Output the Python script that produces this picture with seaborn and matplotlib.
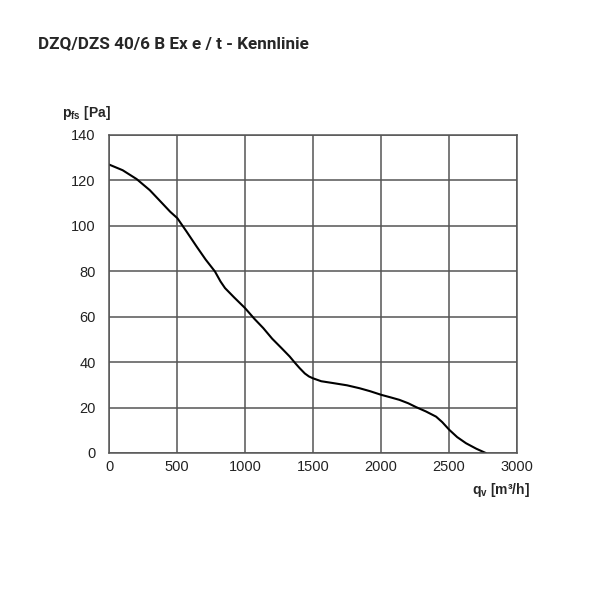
import pandas as pd
import matplotlib
matplotlib.use("Agg")
import matplotlib.pyplot as plt
import seaborn as sns

# Kennlinie
volume_flow = [0, 100, 203, 300, 387, 450, 502, 570, 644, 710, 779, 820, 853,
               920, 1000, 1070, 1134, 1200, 1268, 1328, 1370, 1401, 1440,
               1470, 1499, 1560, 1646, 1750, 1843, 1920, 2002, 2070, 2135,
               2200, 2258, 2330, 2405, 2450, 2502, 2560, 2625, 2700, 2770]
pressure = [127, 124.5, 120.6, 115.7, 110.2, 106.2, 103.4, 97.5, 90.9, 85.2,
            79.9, 75.5, 72.6, 68.5, 63.8, 59, 55, 50.3, 46.2, 42.5, 39.5, 37.4,
            35, 33.7, 32.9, 31.6, 30.8, 29.8, 28.5, 27.2, 25.6, 24.5, 23.4,
            21.9, 20.2, 18.3, 16, 13.6, 10.2, 7, 4.3, 1.9, 0]
x_ticks = [0, 500, 1000, 1500, 2000, 2500, 3000]
y_ticks = [0, 20, 40, 60, 80, 100, 120, 140]

df = pd.DataFrame({"qv": volume_flow, "pfs": pressure})

sns.set_theme(style="white")
plt.rcParams['font.family'] = ['Liberation Sans', 'DejaVu Sans']

fig = plt.figure(figsize=(6, 6), dpi=100)
ax = fig.add_axes([0.1817, 0.245, 0.68, 0.53])

sns.lineplot(data=df, x="qv", y="pfs", color="black", linewidth=1.5, ax=ax)

ax.set_xlim(0, 3000)
ax.set_ylim(0, 140)
ax.set_xticks(x_ticks)
ax.set_yticks(y_ticks)
ax.grid(True, color="#555555", linewidth=1.1)
for s in ax.spines.values():
    s.set_color("#555555")
    s.set_linewidth(1.1)
ax.tick_params(axis="both", length=0, labelsize=10.5, colors="#222222")
ax.tick_params(axis="x", pad=5)
ax.tick_params(axis="y", pad=9.5)
ax.set_xlabel("")
ax.set_ylabel("")

fig.text(0.063, 0.927, "DZQ/DZS 40/6 B Ex e / t - Kennlinie", fontsize=12.3,
         fontweight="bold", family=["Roboto", "DejaVu Sans"], va="center")
fig.text(0.103, 0.811, r"p$_{\mathregular{fs}}$ [Pa]", fontsize=10,
         fontweight="bold", va="center")
fig.text(0.883, 0.183, r"q$_{\mathregular{v}}$ [m³/h]", fontsize=10,
         fontweight="bold", va="center", ha="right")

fig.savefig("out.png", dpi=100, facecolor="white")
